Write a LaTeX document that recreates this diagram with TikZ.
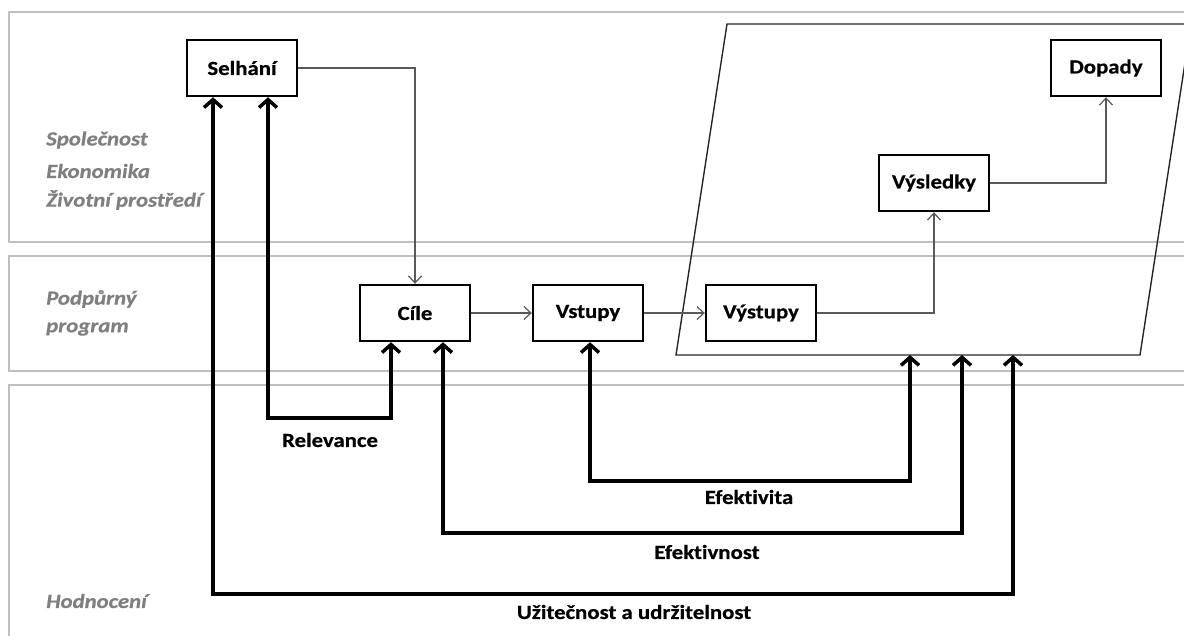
\documentclass[tikz,border=0pt]{standalone}
\usepackage{fontspec}
\setmainfont{Carlito}[FakeStretch=1.14, FakeBold=0.6, Ligatures={NoCommon}]
\usetikzlibrary{arrows.meta}
\definecolor{bandgray}{HTML}{BFBFBF}
\definecolor{lblgray}{HTML}{7F7F7F}
\definecolor{thingray}{HTML}{595959}
\tikzset{
  band/.style={draw=bandgray, line width=1.4pt},
  stepbox/.style={draw=black, fill=white, line width=2.4pt, minimum width=110pt, minimum height=56pt, inner sep=0pt, font=\fontsize{20}{23}\selectfont\bfseries},
  sidelbl/.style={anchor=west, text=lblgray, font=\fontsize{20}{23}\selectfont\bfseries\itshape, inner sep=0pt},
  evallbl/.style={font=\fontsize{20}{23}\selectfont\bfseries, inner sep=0pt},
  thinarr/.style={draw=thingray, line width=1.2pt, -{Straight Barb[length=7pt,width=13pt]}},
  thickarr/.style={draw=black, line width=3.5pt, {Straight Barb[length=8pt,width=18pt]}-{Straight Barb[length=8pt,width=18pt]}},
}
\begin{document}
\begin{tikzpicture}[x=1pt,y=-1pt]
\useasboundingbox (0,0) rectangle (1184,635);
\clip (0,0) rectangle (1184,635);
% bands
\draw[band] (9,12) rectangle (1200,242);
\draw[band] (9,256) rectangle (1200,371);
\draw[band] (9,385) rectangle (1200,650);
% parallelogram
\draw[line width=1.4pt, draw=black!85] (727,24) -- (1191,24) -- (1140,355) -- (676,355) -- cycle;
% side labels
\node[sidelbl] (l1) at (46,140) {Společnost};
\node[sidelbl] (l2) at (46,171) {Ekonomika};
\node[sidelbl] (l3) at (46,200) {Životní prostředí};
\node[sidelbl] (l4) at (46,299) {Podpůrný};
\node[sidelbl] (l5) at (46,329) {program};
\node[sidelbl] (l6) at (46,601) {Hodnocení};
% boxes
\node[stepbox] (sel) at (242,68) {Selhání};
\node[stepbox] (dop) at (1106,68) {Dopady};
\node[stepbox] (vsl) at (934,183) {Výsledky};
\node[stepbox] (cil) at (415,313) {Cíle};
\node[stepbox] (vst) at (588,313) {Vstupy};
\node[stepbox] (vys) at (761,313) {Výstupy};
% targets on parallelogram bottom
\coordinate (e1) at (910,355);
\coordinate (e2) at (962,355);
\coordinate (e3) at (1013,355);
% thin connectors
\draw[thinarr] (sel.east) -| (cil.north);
\draw[thinarr] (cil.east) -- (vst.west);
\draw[thinarr] (vst.east) -- (vys.west);
\draw[thinarr] (vys.east) -| (vsl.south);
\draw[thinarr] (vsl.east) -| (dop.south);
% thick evaluation connectors
\draw[thickarr] ([xshift=26pt]sel.south) -- ++(0,321) -| ([xshift=-24pt]cil.south);
\draw[thickarr] ([xshift=2pt]vst.south) -- ++(0,139) -| (e1);
\draw[thickarr] ([xshift=28pt]cil.south) -- ++(0,191) -| (e2);
\draw[thickarr] ([xshift=-29pt]sel.south) -- ++(0,497) -| (e3);
% evaluation labels
\node[evallbl] (r) at (330,440) {Relevance};
\node[evallbl] (ea) at (749,497) {Efektivita};
\node[evallbl] (en) at (707,552) {Efektivnost};
\node[evallbl] (uu) at (634,612) {Užitečnost a udržitelnost};
\end{tikzpicture}
\end{document}
